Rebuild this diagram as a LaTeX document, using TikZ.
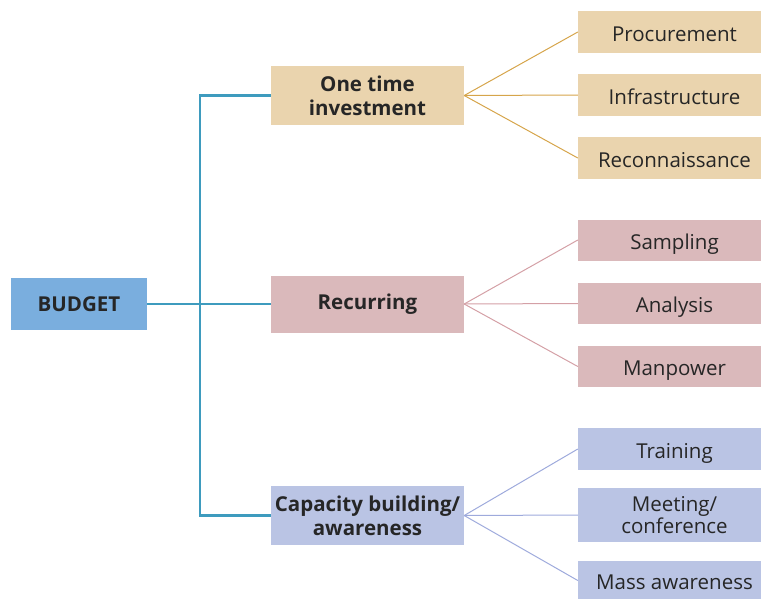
\documentclass[tikz,border=0pt]{standalone}
\usepackage{fontspec}
\setmainfont{Open Sans}
\usepackage{tikz}
\usepackage{xcolor}

\definecolor{budgetblue}{RGB}{122,174,222}
\definecolor{tan}{RGB}{234,212,174}
\definecolor{rose}{RGB}{218,185,187}
\definecolor{lilac}{RGB}{186,196,228}
\definecolor{trunkcol}{RGB}{62,155,190}
\definecolor{tanline}{RGB}{214,165,75}
\definecolor{roseline}{RGB}{212,160,166}
\definecolor{lilacline}{RGB}{158,170,220}

\begin{document}
\begin{tikzpicture}[x=1pt, y=-1pt,
    every node/.style={inner sep=0pt, text=black!85, font=\fontsize{20.5}{22}\selectfont},
    head/.style={minimum width=193pt, minimum height=59pt, align=center, font=\fontsize{20.5}{24}\selectfont\bfseries},
    leafbox/.style={minimum width=183pt, minimum height=42pt, align=center,
        execute at begin node={\hspace*{10pt}}},
    leaf/.style={leafbox, text height=18pt, text depth=0pt},
    trunk/.style={draw=trunkcol, line width=2.5pt},
    twig/.style={line width=1pt}]
                \useasboundingbox (0,0) rectangle (761,598);

                \node[fill=budgetblue, minimum width=136pt, minimum height=52pt, font=\fontsize{20.5}{22}\selectfont\bfseries] (budget) at (79,304) {BUDGET};

                \node[head, fill=tan] (one) at (367.5,95.5) {One time\\investment};
                \node[head, fill=rose, minimum height=57pt] (rec) at (367.5,304) {Recurring};
                \node[head, fill=lilac] (cap) at (367.5,515.5) {Capacity building/\\awareness};

                \node[leaf, fill=tan] (proc) at (669.5,32) {Procurement};
                \node[leaf, fill=tan] (infra) at (669.5,95) {Infrastructure};
                \node[leaf, fill=tan] (recon) at (669.5,158) {Reconnaissance};
                \node[leaf, fill=rose, minimum height=41pt] (samp) at (669.5,240) {Sampling};
                \node[leaf, fill=rose, minimum height=41pt] (anal) at (669.5,303.5) {Analysis};
                \node[leaf, fill=rose, minimum height=41pt] (manp) at (669.5,366.5) {Manpower};
                \node[leaf, fill=lilac] (train) at (669.5,449) {Training};
                \node[leafbox, fill=lilac, minimum height=54pt] (meet) at (669.5,515) {Meeting/\\conference};
                \node[leaf, fill=lilac, minimum height=39pt] (mass) at (669.5,580.5) {Mass awareness};

                \draw[trunk] (budget) -- (rec);
                \draw[trunk] (one.west) -- ++(-71,0) |- (cap.west);

                \foreach \c in {proc, infra, recon}
                    \draw[twig, tanline] (one.east) -- (\c.west);
                \foreach \c in {samp, anal, manp}
                    \draw[twig, roseline] (rec.east) -- (\c.west);
                \foreach \c in {train, meet, mass}
                    \draw[twig, lilacline] (cap.east) -- (\c.west);
            \end{tikzpicture}
\end{document}
